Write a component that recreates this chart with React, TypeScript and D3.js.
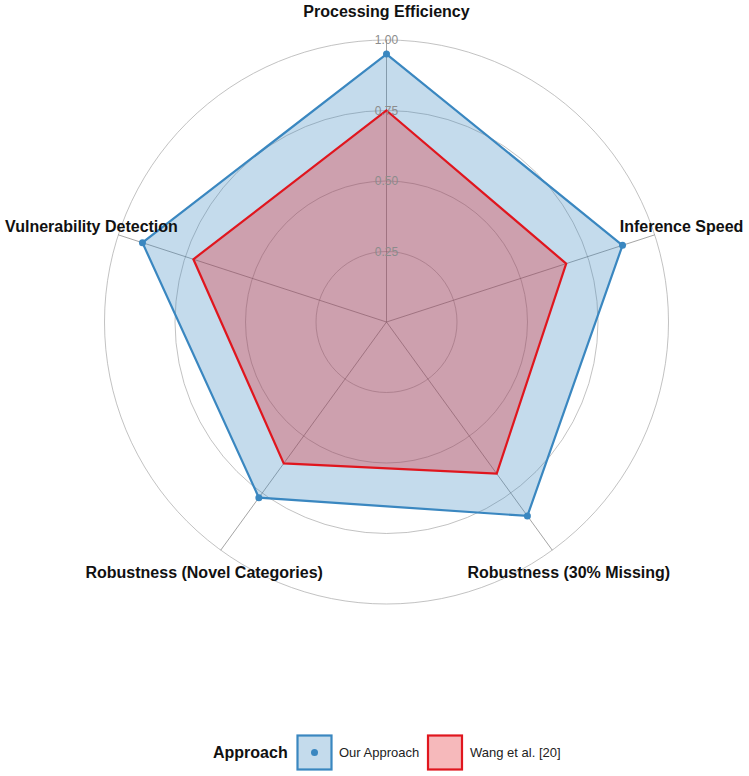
import React from "react";
import * as d3 from "d3";

const axes = [
  "Processing Efficiency",
  "Inference Speed",
  "Robustness (30% Missing)",
  "Robustness (Novel Categories)",
  "Vulnerability Detection",
];
const ourApproach = [0.95, 0.88, 0.85, 0.77, 0.91];
const wangEtAl = [0.75, 0.67, 0.665, 0.62, 0.72];
const gridLevels = [0.25, 0.5, 0.75, 1.0];
const seriesNames = ["Our Approach", "Wang et al. [20]"];

const W = 749;
const H = 776;
const cx = 386.5;
const cy = 322;
const R = 282;
const FONT = "'Liberation Sans', Arial, sans-serif";

const BLUE = "#3A87C0";
const RED = "#E0161E";

export default function App() {
  const r = d3.scaleLinear().domain([0, 1]).range([0, R]);
  const angle = d3
    .scalePoint<string>()
    .domain(axes)
    .range([0, 2 * Math.PI * (axes.length - 1) / axes.length]);

  const pt = (a: string, v: number): [number, number] => {
    const t = angle(a) as number;
    return [cx + r(v) * Math.sin(t), cy - r(v) * Math.cos(t)];
  };

  const line = d3.line<[number, number]>().curve(d3.curveLinearClosed);
  const pathFor = (vals: number[]) => line(axes.map((a, i) => pt(a, vals[i]))) || "";

  return (
    <svg width={W} height={H} style={{ position: "absolute", left: 0, top: 0, background: "#fff" }}>
      {/* grid circles */}
      {gridLevels.map((g) => (
        <circle key={g} cx={cx} cy={cy} r={r(g)} fill="none" stroke="#a8a8a8" strokeWidth={0.7} />
      ))}
      {/* spokes */}
      {axes.map((a) => {
        const [x, y] = pt(a, 1);
        return <line key={a} x1={cx} y1={cy} x2={x} y2={y} stroke="#666" strokeWidth={0.6} />;
      })}
      {/* series areas */}
      <path d={pathFor(ourApproach)} fill={BLUE} fillOpacity={0.3} stroke={BLUE} strokeWidth={2.2} />
      <path d={pathFor(wangEtAl)} fill={RED} fillOpacity={0.3} stroke={RED} strokeWidth={2.2} />
      {axes.map((a, i) => {
        const [x, y] = pt(a, ourApproach[i]);
        return <circle key={a} cx={x} cy={y} r={3.5} fill={BLUE} />;
      })}
      {/* tick labels */}
      {gridLevels.map((g) => (
        <text
          key={g}
          x={cx}
          y={cy - r(g)}
          textAnchor="middle"
          dominantBaseline="central"
          fontFamily={FONT}
          fontSize={12}
          fill="#8c8c8c"
        >
          {d3.format(".2f")(g)}
        </text>
      ))}
      {/* axis labels */}
      {axes.map((a) => {
        const [x, y] = pt(a, 1.1);
        return (
          <text
            key={a}
            x={x}
            y={y}
            textAnchor="middle"
            dominantBaseline="central"
            fontFamily={FONT}
            fontSize={16}
            fontWeight="bold"
            fill="#111"
          >
            {a}
          </text>
        );
      })}
      {/* legend */}
      <g fontFamily={FONT}>
        <text x={213} y={752} dominantBaseline="central" fontSize={16} fontWeight="bold" fill="#111">
          Approach
        </text>
        <rect x={297.5} y={735.5} width={34} height={34} fill={BLUE} fillOpacity={0.3} stroke={BLUE} strokeWidth={2.2} />
        <circle cx={314.5} cy={752.5} r={3.5} fill={BLUE} />
        <text x={339} y={752.5} dominantBaseline="central" fontSize={13} fill="#222">
          {seriesNames[0]}
        </text>
        <rect x={428} y={735.5} width={34} height={34} fill={RED} fillOpacity={0.3} stroke={RED} strokeWidth={2.2} />
        <text x={470} y={752.5} dominantBaseline="central" fontSize={13} fill="#222">
          {seriesNames[1]}
        </text>
      </g>
    </svg>
  );
}
